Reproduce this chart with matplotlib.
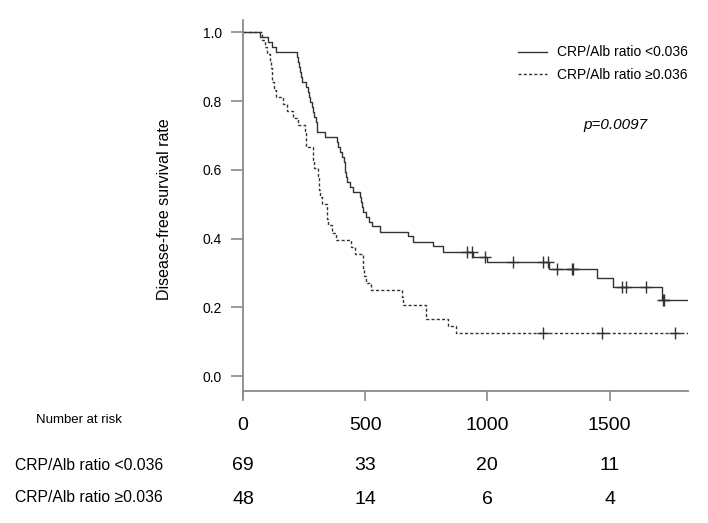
import matplotlib
matplotlib.use("Agg")
import matplotlib.pyplot as plt
import matplotlib.transforms as mtransforms

# ---- data ----
# Group 1: CRP/Alb ratio <0.036 (Kaplan-Meier step levels)
g1_times = [0, 70, 104, 120, 134, 220, 224, 228, 234, 238, 242, 258, 264, 270, 276,
            282, 286, 292, 297, 301, 304, 336, 383, 390, 397, 404, 413, 416, 418,
            420, 424, 438, 451, 479, 482, 486, 492, 503, 515, 526, 560, 676, 697,
            779, 820, 940, 997, 1253, 1450, 1515, 1716]
g1_surv = [1.0, 0.986, 0.971, 0.957, 0.942, 0.928, 0.913, 0.899, 0.884, 0.870, 0.855,
           0.841, 0.826, 0.812, 0.797, 0.783, 0.768, 0.754, 0.739, 0.725, 0.710, 0.696,
           0.681, 0.667, 0.652, 0.638, 0.623, 0.609, 0.594, 0.580, 0.565, 0.551, 0.536,
           0.522, 0.507, 0.493, 0.478, 0.464, 0.449, 0.435, 0.420, 0.406, 0.391, 0.377,
           0.362, 0.347, 0.331, 0.311, 0.284, 0.258, 0.221]
g1_end = 1815
g1_censor = [918, 936, 990, 1106, 1229, 1249, 1283, 1345, 1349, 1549, 1567, 1648, 1720, 1722]

# Group 2: CRP/Alb ratio >=0.036
g2_times = [0, 79, 90, 100, 110, 113, 117, 120, 128, 134, 165, 179, 206, 226, 254, 256,
            258, 285, 287, 289, 308, 310, 312, 315, 322, 342, 344, 346, 363, 380, 440,
            460, 490, 492, 494, 505, 522, 652, 656, 747, 750, 840, 871]
g2_surv = [1.0, 0.979, 0.958, 0.938, 0.917, 0.896, 0.875, 0.854, 0.833, 0.813, 0.792,
           0.771, 0.750, 0.729, 0.708, 0.688, 0.667, 0.646, 0.625, 0.604, 0.583, 0.563,
           0.542, 0.521, 0.500, 0.479, 0.458, 0.438, 0.417, 0.396, 0.375, 0.354, 0.333,
           0.313, 0.292, 0.271, 0.250, 0.229, 0.208, 0.188, 0.167, 0.146, 0.125]
g2_end = 1825
g2_censor = [1228, 1470, 1766]

labels = ["CRP/Alb ratio <0.036", "CRP/Alb ratio \u22650.036"]
x_ticks = [0, 500, 1000, 1500]
y_ticks = [0.0, 0.2, 0.4, 0.6, 0.8, 1.0]
risk_g1 = [69, 33, 20, 11]
risk_g2 = [48, 14, 6, 4]
p_text = "p=0.0097"


def surv_at(times, surv, t):
    s = surv[0]
    for ti, si in zip(times, surv):
        if ti <= t:
            s = si
    return s


plt.rcParams['font.family'] = ['Liberation Sans', 'DejaVu Sans']
W, H = 708, 523
fig = plt.figure(figsize=(W / 100, H / 100), dpi=100)
ax_left, ax_right, ax_top, ax_bot = 243, 688, 20, 398
ax = fig.add_axes([ax_left / W, 1 - ax_bot / H, (ax_right - ax_left) / W, (ax_bot - ax_top) / H])

y0px, y1px = 376.0, 32.3
ppu = (y0px - y1px)
ax.set_ylim(-(ax_bot - y0px) / ppu, (y0px - ax_top) / ppu)
ax.set_xlim(0, 1821)

line_col = '#333333'
axis_col = '#8a8a8a'

ax.step(g1_times + [g1_end], g1_surv + [g1_surv[-1]], where='post', color=line_col, lw=1.0,
        label=labels[0])
ax.step(g2_times + [g2_end], g2_surv + [g2_surv[-1]], where='post', color=line_col, lw=1.0,
        linestyle=(0, (2.2, 1.6)), label=labels[1])

ax.plot(g1_censor, [surv_at(g1_times, g1_surv, t) for t in g1_censor], linestyle='none',
        marker='+', ms=8, mew=1.0, color=line_col)
ax.plot(g2_censor, [surv_at(g2_times, g2_surv, t) for t in g2_censor], linestyle='none',
        marker='+', ms=8, mew=1.0, color=line_col)

for s in ['top', 'right']:
    ax.spines[s].set_visible(False)
ax.spines['left'].set_color(axis_col)
ax.spines['bottom'].set_color(axis_col)
ax.spines['left'].set_linewidth(1.3)
ax.spines['bottom'].set_linewidth(1.3)
ax.spines['bottom'].set_position(('data', -(390.7 - y0px) / ppu))

ax.set_xticks(x_ticks)
ax.set_xticklabels([str(v) for v in x_ticks], fontsize=14)
ax.set_yticks(y_ticks)
ax.set_yticklabels([f"{v:.1f}" for v in y_ticks], fontsize=10)
ax.tick_params(axis='x', direction='out', length=7, width=1.2, color=axis_col, pad=12)
ax.tick_params(axis='y', direction='out', length=9, width=1.2, color=axis_col, pad=6)

ax.set_ylabel("Disease-free survival rate", fontsize=11.5, labelpad=22)

leg = ax.legend(loc='upper right', bbox_to_anchor=(700 / W, 1 - 33 / H), bbox_transform=fig.transFigure,
                frameon=False, fontsize=10, handlelength=2.1, handletextpad=0.7, labelspacing=0.6)

fig.text(583 / W, 1 - 125 / H, p_text, fontsize=11, style='italic', ha='left', va='center')

trans = mtransforms.blended_transform_factory(ax.transData, fig.transFigure)
fig.text(79 / W, 1 - 420 / H, "Number at risk", fontsize=9.5, ha='center', va='center')
fig.text(15 / W, 1 - 465 / H, labels[0], fontsize=11.3, ha='left', va='center')
fig.text(15 / W, 1 - 498 / H, labels[1], fontsize=11.3, ha='left', va='center')
for x, a, b in zip(x_ticks, risk_g1, risk_g2):
    ax.text(x, 1 - 466 / H, str(a), transform=trans, fontsize=14, ha='center', va='center')
    ax.text(x, 1 - 499 / H, str(b), transform=trans, fontsize=14, ha='center', va='center')

fig.savefig("out.png", dpi=100)
